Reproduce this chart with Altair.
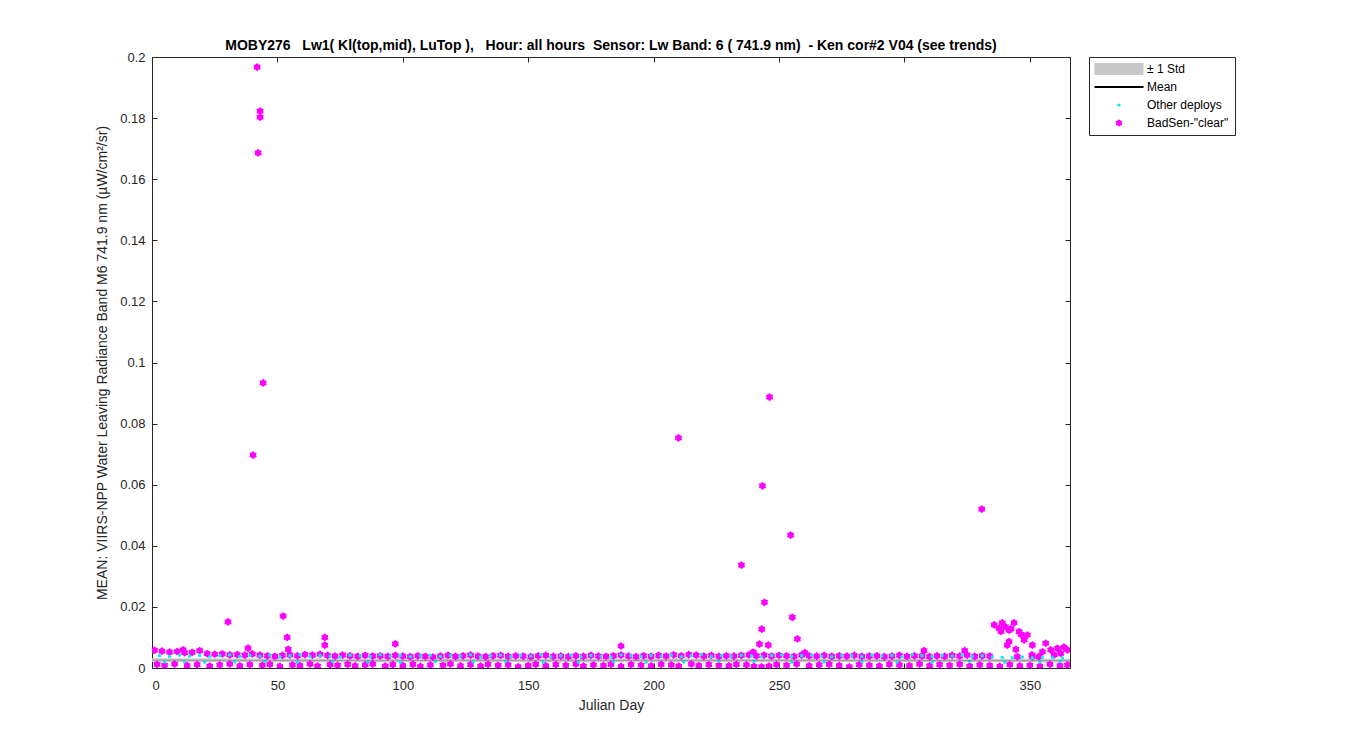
import altair as alt
import pandas as pd

FONT = "Liberation Sans"

# ---------------- categories / styles ----------------
cat_std = "\u00b1 1 Std"
cat_mean = "Mean"
cat_other = "Other deploys"
cat_bad = 'BadSen-"clear"'
categories = [cat_std, cat_mean, cat_other, cat_bad]
colors = ["#c8c8c8", "#000000", "#00f0f0", "#ff00ff"]
shape_paths = [
    "M-4.9,-1.2H4.9V1.2H-4.9Z",
    "M-4.9,-0.2H4.9V0.2H-4.9Z",
    "M-0.32,0A0.32,0.32,0,1,0,0.32,0A0.32,0.32,0,1,0,-0.32,0Z",
    "M0,-0.75L-0.275,-0.476L-0.65,-0.375L-0.55,0L-0.65,0.375L-0.275,0.476L0,0.75"
    "L0.275,0.476L0.65,0.375L0.55,0L0.65,-0.375L0.275,-0.476Z",
]

x_ticks = [0, 50, 100, 150, 200, 250, 300, 350]
y_ticks = [0, 0.02, 0.04, 0.06, 0.08, 0.1, 0.12, 0.14, 0.16, 0.18, 0.2]

# ---------------- data ----------------
band_days = [0, 30, 60, 90, 120, 150, 180, 210, 240, 270, 300, 330, 366]
band_lo = [.0020, .0020, .0019, .0019, .0020, .0019, .0019, .0020, .0019, .0019, .0020, .0019, .0019]
band_hi = [.0032, .0031, .0031, .0030, .0031, .0030, .0031, .0031, .0030, .0031, .0030, .0030, .0030]
band_mean = [.0026, .0025, .0025, .0024, .0025, .0025, .0025, .0025, .0025, .0025, .0025, .0024, .0024]

# BadSen upper row
mu_days = [1, 4, 7, 10, 13, 16, 19, 22, 25, 28,
           31, 34, 37, 40, 43, 46, 49, 52, 55, 58,
           61, 64, 67, 70, 73, 76, 79, 82, 85, 88,
           91, 94, 97, 100, 103, 106, 109, 112, 115, 118,
           121, 124, 127, 130, 133, 136, 139, 142, 145, 148,
           151, 154, 157, 160, 163, 166, 169, 172, 175, 178,
           181, 184, 187, 190, 193, 196, 199, 202, 205, 208,
           211, 214, 217, 220, 223, 226, 229, 232, 235, 238,
           241, 244, 247, 250, 253, 256, 259, 262, 265, 268,
           271, 274, 277, 280, 283, 286, 289, 292, 295, 298,
           301, 304, 307, 310, 313, 316, 319, 322, 325, 328,
           331, 334]
mu_vals = [.0058, .0055, .0052, .0054, .0050, .0051, .0057, .0047, .0045, .0046,
           .0043, .0044, .0042, .0046, .0042, .0040, .0038, .0041, .0043, .0040,
           .0044, .0042, .0045, .0041, .0039, .0042, .0040, .0038, .0041, .0039,
           .0040, .0038, .0041, .0039, .0037, .0040, .0038, .0036, .0039, .0041,
           .0038, .0040, .0042, .0039, .0037, .0040, .0041, .0038, .0040, .0039,
           .0037, .0040, .0041, .0038, .0039, .0037, .0040, .0038, .0041, .0039,
           .0038, .0040, .0042, .0039, .0037, .0040, .0038, .0041, .0039, .0043,
           .0040, .0044, .0042, .0039, .0041, .0038, .0040, .0039, .0041, .0043,
           .0040, .0042, .0039, .0041, .0040, .0038, .0042, .0040, .0039, .0041,
           .0038, .0040, .0039, .0041, .0038, .0039, .0040, .0037, .0039, .0041,
           .0038, .0040, .0039, .0037, .0040, .0038, .0041, .0039, .0042, .0038,
           .0040, .0039]

# BadSen lower row
ml_days = [2, 5, 9, 14, 18, 23, 27, 31, 35, 39,
           44, 47, 51, 56, 59, 63, 66, 71, 74, 78,
           81, 85, 88, 93, 96, 100, 104, 107, 111, 116,
           119, 123, 127, 131, 134, 138, 142, 146, 150, 153,
           157, 161, 165, 169, 172, 176, 180, 183, 187, 191,
           195, 199, 203, 207, 210, 215, 218, 222, 226, 230,
           233, 237, 240, 243, 246, 249, 253, 257, 262, 266,
           270, 274, 278, 282, 286, 290, 294, 298, 302, 306,
           310, 314, 318, 322, 326, 330, 334, 338, 342, 346,
           350, 354, 358, 362, 365]
ml_vals = [.0012, .0009, .0013, .0008, .0011, .0006, .0010, .0013, .0007, .0011,
           .0009, .0012, .0005, .0010, .0008, .0013, .0006, .0011, .0009, .0012,
           .0007, .0010, .0013, .0006, .0011, .0008, .0012, .0005, .0010, .0009,
           .0013, .0007, .0011, .0006, .0012, .0009, .0010, .0004, .0008, .0012,
           .0007, .0011, .0009, .0013, .0006, .0010, .0008, .0012, .0005, .0011,
           .0009, .0007, .0012, .0010, .0006, .0013, .0008, .0011, .0009, .0007,
           .0012, .0010, .0005, .0004, .0006, .0011, .0009, .0013, .0007, .0010,
           .0012, .0008, .0004, .0011, .0009, .0006, .0012, .0010, .0008, .0013,
           .0007, .0011, .0009, .0012, .0006, .0010, .0008, .0005, .0011, .0007,
           .0009, .0006, .0012, .0008, .0010]

# BadSen outliers and end-of-year cluster
mo_days = [41.9, 43.1, 43.1, 42.3, 44.3, 40.3, 30.3, 52.3, 53.9, 54.3,
           68.9, 68.9, 97.0, 38.3, 12.4, 187.0, 209.9, 235.0, 246.2, 243.4,
           244.2, 243.1, 242.2, 245.7, 239.7, 254.6, 255.3, 257.3, 260.3, 330.8,
           307.8, 324.0, 335.8, 337.7, 339.0, 340.3, 341.7, 343.7, 345.7, 349.0,
           347.7, 351.0, 341.7, 341.0, 344.4, 345.0, 351.0, 356.3, 358.3, 361.0,
           363.6, 365.0, 355.0, 353.6, 359.7, 362.3, 350.8, 338.5, 342.5, 346.5]
mo_vals = [.1967, .1823, .1803, .1686, .0933, .0697, .0151, .0170, .0100, .0061,
           .0100, .0075, .0079, .0065, .0059, .0072, .0753, .0337, .0887, .0596,
           .0215, .0127, .0078, .0075, .0052, .0435, .0166, .0095, .0050, .0520,
           .0057, .0057, .0141, .0130, .0148, .0135, .0124, .0148, .0119, .0108,
           .0092, .0075, .0086, .0075, .0061, .0037, .0037, .0081, .0059, .0064,
           .0068, .0059, .0053, .0037, .0043, .0048, .0043, .0120, .0128, .0110]

# Other deploys
cu_days = [3, 7, 11, 15, 19, 23, 27, 31, 35, 39,
           43, 47, 51, 55, 59, 63, 67, 71, 75, 79,
           83, 87, 91, 95, 99, 103, 107, 111, 115, 119,
           123, 127, 131, 135, 139, 143, 147, 151, 155, 159,
           163, 167, 171, 175, 179, 183, 187, 191, 195, 199,
           203, 207, 211, 215, 219, 223, 227, 231, 235, 239,
           243, 247, 251, 255, 259, 263, 267, 271, 275, 279,
           283, 287, 291, 295, 299, 303, 307, 311, 315, 319,
           323, 327, 331, 335, 339, 343, 347, 351, 355, 359,
           363]
cu_vals = [.0040, .0038, .0042, .0039, .0041, .0037, .0040, .0043, .0038, .0041,
           .0039, .0042, .0037, .0040, .0044, .0038, .0041, .0039, .0036, .0042,
           .0040, .0038, .0043, .0039, .0041, .0037, .0040, .0042, .0038, .0041,
           .0039, .0043, .0037, .0040, .0042, .0038, .0041, .0039, .0044, .0037,
           .0040, .0042, .0038, .0041, .0039, .0036, .0043, .0040, .0038, .0041,
           .0039, .0042, .0037, .0040, .0044, .0038, .0041, .0039, .0042, .0040,
           .0037, .0041, .0043, .0038, .0040, .0042, .0039, .0037, .0041, .0040,
           .0038, .0042, .0039, .0041, .0037, .0043, .0040, .0038, .0041, .0039,
           .0042, .0038, .0040, .0037, .0035, .0034, .0036, .0033, .0035, .0034,
           .0033]
cl_days = [5, 13, 21, 33, 45, 58, 72, 86, 99, 113,
           128, 141, 156, 170, 184, 197, 212, 226, 240, 255,
           268, 283, 297, 311, 326, 340, 354, 362]
cl_vals = [.0020, .0021, .0019, .0020, .0022, .0019, .0021, .0020, .0019, .0021,
           .0020, .0022, .0019, .0020, .0021, .0019, .0020, .0022, .0021, .0019,
           .0020, .0021, .0019, .0020, .0022, .0019, .0020, .0021]

band_df = pd.DataFrame({"day": band_days, "lo": band_lo, "hi": band_hi, "mean": band_mean})
mag_df = pd.DataFrame({
    "day": mu_days + ml_days + mo_days,
    "val": mu_vals + ml_vals + mo_vals,
})
mag_df["series"] = cat_bad
cyan_df = pd.DataFrame({"day": cu_days + cl_days, "val": cu_vals + cl_vals})
cyan_df["series"] = cat_other

# ---------------- scales / axes ----------------
xs = alt.Scale(domain=[0, 366], nice=False, zero=False)
ys = alt.Scale(domain=[0, 0.2], nice=False)
cscale = alt.Scale(domain=categories, range=colors)
sscale = alt.Scale(domain=categories, range=shape_paths)

common_axis = dict(grid=False, labelFont=FONT, titleFont=FONT,
                   labelColor="#262626", titleColor="#262626", tickColor="#262626",
                   domainColor="#262626", domainWidth=1, tickWidth=1,
                   labelFontSize=13, titleFontSize=14, titleFontWeight="normal")

ax_bottom_labels = alt.Axis(values=x_ticks, ticks=False, domain=True, labelPadding=11, titlePadding=6, **common_axis)
ax_bottom_ticks = alt.Axis(values=x_ticks, orient="bottom", labels=False, domain=False, tickSize=5, offset=-5, **common_axis)
ax_top_ticks = alt.Axis(values=x_ticks, orient="top", labels=False, domain=False, tickSize=5, offset=-5, **common_axis)
ax_top_line = alt.Axis(orient="top", labels=False, ticks=False, domain=True, **common_axis)
ay_left_labels = alt.Axis(values=y_ticks, format="~g", ticks=False, domain=True, labelPadding=7, titlePadding=10, **common_axis)
ay_left_ticks = alt.Axis(values=y_ticks, orient="left", labels=False, domain=False, tickSize=5, offset=-5, **common_axis)
ay_right_ticks = alt.Axis(values=y_ticks, orient="right", labels=False, domain=False, tickSize=5, offset=-5, **common_axis)
ay_right_line = alt.Axis(orient="right", labels=False, ticks=False, domain=True, **common_axis)

legend = alt.Legend(title=None, orient="none", legendX=937, legendY=0,
                    symbolSize=100, strokeColor="#262626", fillColor="white",
                    padding=6, rowPadding=6, symbolOffset=18, labelOffset=22,
                    labelFont=FONT, labelFontSize=12, labelColor="#000000")

band = alt.Chart(band_df).mark_area(color="#c8c8c8").encode(
    x=alt.X("day:Q", scale=xs, axis=ax_bottom_labels, title="Julian Day"),
    y=alt.Y("lo:Q", scale=ys, axis=ay_left_labels,
            title="MEAN: VIIRS-NPP Water Leaving Radiance Band M6 741.9 nm (\u00b5W/cm\u00b2/sr)"),
    y2="hi:Q",
)

mean_line = alt.Chart(band_df).mark_line(color="#000000", strokeWidth=0.8, opacity=0.3).encode(
    x=alt.X("day:Q", scale=xs, axis=ax_top_ticks, title=None),
    y=alt.Y("mean:Q", scale=ys, axis=ay_right_ticks, title=None),
)

mag = alt.Chart(mag_df).mark_point(filled=True, size=120, opacity=1, clip=True).encode(
    x=alt.X("day:Q", scale=xs, axis=ax_top_line, title=None),
    y=alt.Y("val:Q", scale=ys, axis=ay_right_line, title=None),
    color=alt.Color("series:N", scale=cscale, legend=legend),
    shape=alt.Shape("series:N", scale=sscale, legend=legend),
)

cyan = alt.Chart(cyan_df).mark_point(filled=True, size=110, opacity=1, clip=True).encode(
    x=alt.X("day:Q", scale=xs, axis=ax_bottom_ticks, title=None),
    y=alt.Y("val:Q", scale=ys, axis=ay_left_ticks, title=None),
    color=alt.Color("series:N", scale=cscale, legend=legend),
    shape=alt.Shape("series:N", scale=sscale, legend=legend),
)

title_text = ("MOBY276 \u00a0\u00a0Lw1( Kl(top,mid), LuTop ), \u00a0\u00a0Hour: all hours \u00a0Sensor: "
              "Lw Band: 6 ( 741.9 nm) \u00a0- Ken cor#2 V04 (see trends)")

chart = alt.layer(band, mag, cyan, mean_line).resolve_axis(
    x="independent", y="independent"
).properties(
    width=918, height=611,
    autosize=alt.AutoSizeParams(type="none"),
    padding={"left": 144, "top": 49, "right": 190, "bottom": 70},
    title=alt.TitleParams(text=title_text, font=FONT, fontSize=14, fontWeight="bold",
                          anchor="middle", offset=-2, color="#000000"),
).configure_view(strokeWidth=0).configure(background="white")

chart.save("out.html", embed_options={"renderer": "svg", "actions": False})
